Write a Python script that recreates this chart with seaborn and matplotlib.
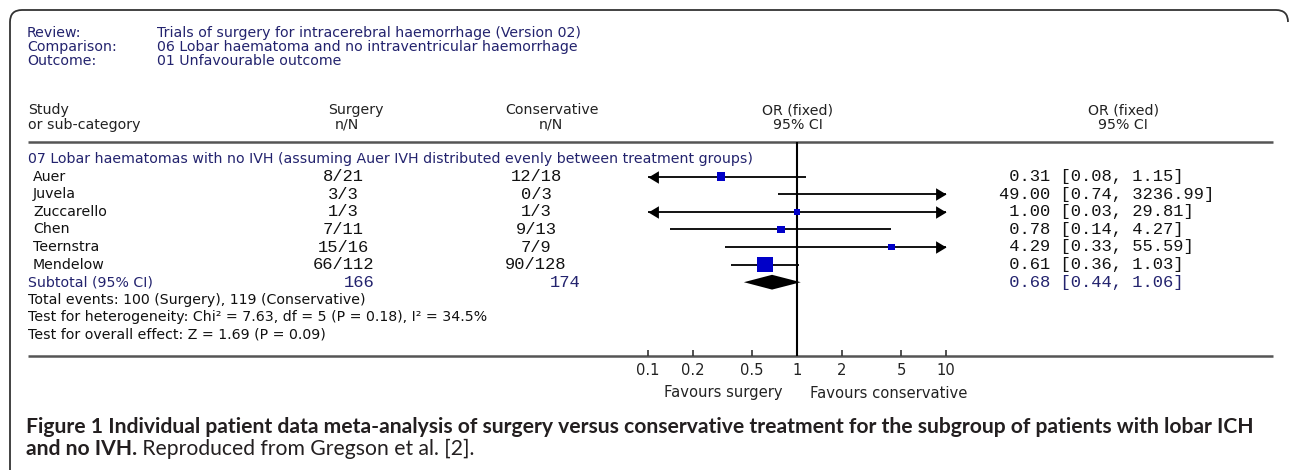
import numpy as np
import pandas as pd
import matplotlib
matplotlib.use("Agg")
import matplotlib.pyplot as plt
import seaborn as sns
from matplotlib.path import Path
from matplotlib.patches import PathPatch
from matplotlib.ticker import NullLocator, FixedLocator, FixedFormatter

# ---------------- data ----------------
header_labels = ["Review:", "Comparison:", "Outcome:"]
header_values = ["Trials of surgery for intracerebral haemorrhage (Version 02)",
                 "06 Lobar haematoma and no intraventricular haemorrhage",
                 "01 Unfavourable outcome"]
subgroup = "07 Lobar haematomas with no IVH (assuming Auer IVH distributed evenly between treatment groups)"
studies = ["Auer", "Juvela", "Zuccarello", "Chen", "Teernstra", "Mendelow"]
surgery_nN = ["8/21", "3/3", "1/3", "7/11", "15/16", "66/112"]
conservative_nN = ["12/18", "0/3", "1/3", "9/13", "7/9", "90/128"]
or_vals = [0.31, 49.00, 1.00, 0.78, 4.29, 0.61]
ci_low = [0.08, 0.74, 0.03, 0.14, 0.33, 0.36]
ci_high = [1.15, 3236.99, 29.81, 4.27, 55.59, 1.03]
weights = [12.5, 0.6, 2.4, 8.3, 2.6, 73.6]
subtotal_label = "Subtotal (95% CI)"
subtotal_N = [166, 174]
subtotal_or, subtotal_low, subtotal_high = 0.68, 0.44, 1.06
summary_lines = ["Total events: 100 (Surgery), 119 (Conservative)",
                 "Test for heterogeneity: Chi² = 7.63, df = 5 (P = 0.18), I² = 34.5%",
                 "Test for overall effect: Z = 1.69 (P = 0.09)"]
tick_vals = [0.1, 0.2, 0.5, 1, 2, 5, 10]
tick_labels = ["0.1", "0.2", "0.5", "1", "2", "5", "10"]
favours = ["Favours surgery", "Favours conservative"]
caption1 = "Figure 1 Individual patient data meta-analysis of surgery versus conservative treatment for the subgroup of patients with lobar ICH"
caption2_bold = "and no IVH."
caption2_rest = " Reproduced from Gregson et al. [2]."

# ---------------- style / layout ----------------
sns.set_theme(style="white")
plt.rcParams["font.family"] = ["DejaVu Sans"]
W, H = 1292, 470
NAVY = "#23236e"
DARK = "#222222"
BLUE = "#0000c8"
MONO = ["Liberation Mono", "DejaVu Sans Mono"]
ROW0, DY = 159, 17.6
TOP_RULE, AXIS_Y = 142, 356
X01, X10 = 648, 946

fig = plt.figure(figsize=(W / 100, H / 100), dpi=100)
fig.patch.set_facecolor("white")
ax0 = fig.add_axes([0, 0, 1, 1])
ax0.set_xlim(0, W)
ax0.set_ylim(H, 0)
ax0.axis("off")
renderer = fig.canvas.get_renderer()


def row_y(i):
    return ROW0 + DY * i


def fit(txt, width):
    w = txt.get_window_extent(renderer).width
    txt.set_fontsize(txt.get_fontsize() * width / w)
    return txt.get_fontsize()


# calibrate the base font size from the subgroup line width
t = ax0.text(28, row_y(0), subgroup, fontsize=10, color=NAVY, va="center", ha="left")
FS = fit(t, 718)

# outer rounded box
r = 12
verts = [(10, H + 5), (10, 10 + r), (10, 10), (10 + r, 10), (1288 - r, 10), (1288, 10), (1288, 10 + r)]
codes = [Path.MOVETO, Path.LINETO, Path.CURVE3, Path.CURVE3, Path.LINETO, Path.CURVE3, Path.CURVE3]
ax0.add_patch(PathPatch(Path(verts, codes), facecolor="none", edgecolor="#333333", lw=1.3))

# header block
for k, (lab, val) in enumerate(zip(header_labels, header_values)):
    y = 33 + 14.2 * k
    ax0.text(27, y, lab, fontsize=FS, color=NAVY, va="center")
    ax0.text(157, y, val, fontsize=FS, color=NAVY, va="center")

# column headers
ax0.text(28, 110, "Study", fontsize=FS, color=DARK, va="center")
ax0.text(28, 125, "or sub-category", fontsize=FS, color=DARK, va="center")
ax0.text(356, 110, "Surgery", fontsize=FS, color=DARK, va="center", ha="center")
ax0.text(347, 125, "n/N", fontsize=FS, color=DARK, va="center", ha="center")
ax0.text(552, 110, "Conservative", fontsize=FS, color=DARK, va="center", ha="center")
ax0.text(551, 125, "n/N", fontsize=FS, color=DARK, va="center", ha="center")
for xc in (798, 1123):
    ax0.text(xc, 110, "OR (fixed)", fontsize=FS, color=DARK, va="center", ha="center")
    ax0.text(xc, 125, "95% CI", fontsize=FS, color=DARK, va="center", ha="center")

# rules
ax0.plot([28, 1273], [TOP_RULE, TOP_RULE], color="#555555", lw=1.8, solid_capstyle="butt")
ax0.plot([28, 1273], [AXIS_Y, AXIS_Y], color="#555555", lw=1.8, solid_capstyle="butt")

# monospace size calibrated so that one character is ~10.3 px wide
tm = ax0.text(999, -50, "49.00 [0.74, 3236.99]", fontsize=10, family=MONO)
MFS = fit(tm, 21 * 10.3)
tm.remove()

# study rows
for i, name in enumerate(studies):
    y = row_y(i + 1)
    ax0.text(33, y, name, fontsize=FS, color="#111111", va="center")
    ax0.text(343, y, surgery_nN[i], fontsize=MFS, family=MONO, color="#111111", va="center", ha="center")
    ax0.text(536, y, conservative_nN[i], fontsize=MFS, family=MONO, color="#111111", va="center", ha="center")
    ax0.text(999, y, f"{or_vals[i]:>5.2f} [{ci_low[i]:.2f}, {ci_high[i]:.2f}]",
             fontsize=MFS, family=MONO, color="#111111", va="center", ha="left")

ys = row_y(len(studies) + 1)
ax0.text(28, ys, subtotal_label, fontsize=FS, color=NAVY, va="center")
ax0.text(359, ys, str(subtotal_N[0]), fontsize=MFS, family=MONO, color=NAVY, va="center", ha="center")
ax0.text(565, ys, str(subtotal_N[1]), fontsize=MFS, family=MONO, color=NAVY, va="center", ha="center")
ax0.text(999, ys, f"{subtotal_or:>5.2f} [{subtotal_low:.2f}, {subtotal_high:.2f}]",
         fontsize=MFS, family=MONO, color=NAVY, va="center", ha="left")

for k, line in enumerate(summary_lines):
    ax0.text(28, row_y(len(studies) + 2 + k), line, fontsize=FS, color="#111111", va="center")

# favours labels
f1 = ax0.text(783, 393, favours[0], fontsize=10, color=DARK, va="center", ha="right")
FFS = fit(f1, 118)
ax0.text(810, 393, favours[1], fontsize=FFS, color=DARK, va="center", ha="left")

# caption
cfam = ["Lato", "DejaVu Sans"]
c1 = ax0.text(26, 427, caption1, fontsize=12, fontweight="bold", family=cfam, color="#231f20", va="center")
CFS = fit(c1, 1223)
c2 = ax0.text(26, 449, caption2_bold, fontsize=CFS, fontweight="bold", family=cfam, color="#231f20", va="center")
x_end = c2.get_window_extent(renderer).x1
ax0.text(x_end, 449, caption2_rest, fontsize=CFS, family=cfam, color="#231f20", va="center")

# ---------------- forest plot axes ----------------
axf = fig.add_axes([X01 / W, 1 - AXIS_Y / H, (X10 - X01) / W, (AXIS_Y - TOP_RULE) / H])
axf.set_facecolor("none")

df = pd.DataFrame({"study": studies, "or": or_vals, "lo": ci_low, "hi": ci_high,
                   "w": weights, "row": np.arange(1, len(studies) + 1)})

left_arrow = Path([(0, 0), (1, 0.6), (1, -0.6), (0, 0)],
                  [Path.MOVETO, Path.LINETO, Path.LINETO, Path.CLOSEPOLY])
right_arrow = Path([(0, 0), (-1, 0.6), (-1, -0.6), (0, 0)],
                   [Path.MOVETO, Path.LINETO, Path.LINETO, Path.CLOSEPOLY])
for _, rw in df.iterrows():
    lo_c, hi_c = max(rw["lo"], 0.1), min(rw["hi"], 10)
    axf.plot([lo_c, hi_c], [rw["row"], rw["row"]], color="black", lw=1.3, solid_capstyle="butt")
    if rw["lo"] < 0.1:
        axf.plot([0.1], [rw["row"]], marker=left_arrow, ms=15, color="black", mew=0, clip_on=False)
    if rw["hi"] > 10:
        axf.plot([10], [rw["row"]], marker=right_arrow, ms=15, color="black", mew=0, clip_on=False)

vis = df[(df["or"] >= 0.1) & (df["or"] <= 10)]
sns.scatterplot(data=vis, x="or", y="row", size="w", sizes=(22, 125), marker="s",
                color=BLUE, linewidth=0, legend=False, ax=axf, zorder=4)

ysub = len(studies) + 1
h = 0.42
axf.fill([subtotal_low, subtotal_or, subtotal_high, subtotal_or],
         [ysub, ysub - h, ysub, ysub + h], color="black", lw=0, zorder=5)

axf.axvline(1, color="black", lw=1.5, zorder=2)

axf.set_xscale("log")
axf.set_xlim(0.1, 10)
axf.set_ylim((AXIS_Y - ROW0) / DY, (TOP_RULE - ROW0) / DY)
axf.set_xlabel("")
axf.set_ylabel("")
axf.set_yticks([])
axf.xaxis.set_major_locator(FixedLocator(tick_vals))
axf.xaxis.set_major_formatter(FixedFormatter(tick_labels))
axf.xaxis.set_minor_locator(NullLocator())
axf.tick_params(axis="x", direction="in", length=4, width=1.2, color="#333333",
                pad=5, labelsize=FFS, labelcolor=DARK, bottom=True)
for s in axf.spines.values():
    s.set_visible(False)

fig.savefig("out.png", dpi=100, facecolor="white")
